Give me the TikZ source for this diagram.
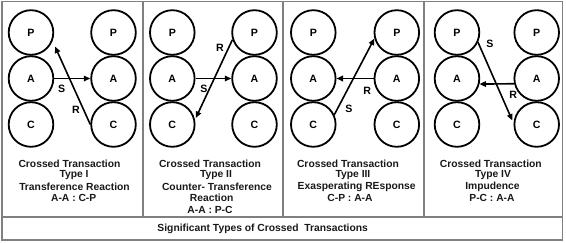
\documentclass[tikz,border=0pt]{standalone}
\usepackage{fontspec}
\setmainfont{Liberation Sans}
\usetikzlibrary{arrows.meta,calc}
\begin{document}
\begin{tikzpicture}[x=1pt,y=-1pt,
  frameline/.style={draw=black!50,line width=1.8pt},
  ego/.style={circle,draw=black,line width=1.8pt,minimum size=44.6pt,inner sep=0pt,
    font=\fontsize{10.6}{11}\selectfont\bfseries},
  msg/.style={draw=black,line width=1.6pt,-{Triangle[length=6.5pt,width=5.5pt]}},
  lbl/.style={inner sep=0pt,font=\fontsize{10.6}{11}\selectfont\bfseries},
  captxt/.style={inner sep=0pt,text=black!90,font=\fontsize{10.3}{11}\selectfont\bfseries}]
\useasboundingbox (0,0) rectangle (566,243);
% frame
\draw[frameline] (2,1.5) rectangle (562.5,239.7);
\draw[frameline] (2,217.3) -- (562.5,217.3);
\draw[frameline] (142.7,1.5) -- (142.7,217.3);
\draw[frameline] (283.3,1.5) -- (283.3,217.3);
\draw[frameline] (424.3,1.5) -- (424.3,217.3);
% circles
\foreach \i/\xl/\xr in {1/31/113.5, 2/172.3/254.5, 3/313.3/396.8, 4/457/536.7}{
  \node[ego] (P\i l) at (\xl,32.5) {P};
  \node[ego] (A\i l) at (\xl,78.5) {A};
  \node[ego] (C\i l) at (\xl,124.5) {C};
  \node[ego] (P\i r) at (\xr,32.5) {P};
  \node[ego] (A\i r) at (\xr,78.5) {A};
  \node[ego] (C\i r) at (\xr,124.5) {C};
}
% tip coordinates
\coordinate (t1) at ($(P1l)+(24,14)$);
\coordinate (t2) at ($(C2l)+(23.5,-6.5)$);
\coordinate (t4) at ($(C4r)+(-24.4,-4)$);
% panel 1
\draw[msg] (A1l.east) -- (A1r.west);
\draw[msg] (C1r.west) -- (t1);
\node[lbl] (s1) at (61.7,89.3) {S};
\node[lbl] (r1) at (76,110) {R};
% panel 2
\draw[msg] (A2l.east) -- (A2r.west);
\draw[msg] (P2r.198) -- (t2);
\node[lbl] (s2) at (204,89.3) {S};
\node[lbl] (r2) at (220,48.3) {R};
% panel 3
\draw[msg] (C3l.25) -- (P3r.195);
\draw[msg] (A3r.west) -- (A3l.east);
\node[lbl] (s3) at (349,109.3) {S};
\node[lbl] (r3) at (367.3,90.7) {R};
% panel 4
\draw[msg] (P4l.-25) -- (t4);
\draw[msg] (A4r.193) -- (A4l.-14);
\node[lbl] (s4) at (490,44.3) {S};
\node[lbl] (r4) at (513.3,95) {R};
% captions
\node[captxt] (c11) at (69.5,163.5) {Crossed Transaction};
\node[captxt] (c12) at (74,175) {Type I};
\node[captxt] (c13) at (74.5,186.5) {Transference Reaction};
\node[captxt] (c14) at (73.7,198) {A-A : C-P};
\node[captxt] (c21) at (210,163.5) {Crossed Transaction};
\node[captxt] (c22) at (216,175) {Type II};
\node[captxt] (c23) at (217,186.5) {Counter- Transference};
\node[captxt] (c24) at (211.7,198) {Reaction};
\node[captxt] (c25) at (210,209.5) {A-A : P-C};
\node[captxt] (c31) at (348,163.5) {Crossed Transaction};
\node[captxt] (c32) at (353,175) {Type III};
\node[captxt] (c33) at (356.7,186.5) {Exasperating REsponse};
\node[captxt] (c34) at (350,198) {C-P : A-A};
\node[captxt] (c41) at (490.8,163.5) {Crossed Transaction};
\node[captxt] (c42) at (493,175) {Type IV};
\node[captxt] (c43) at (492.5,186.5) {Impudence};
\node[captxt] (c44) at (492,198) {P-C : A-A};
\node[captxt] (bt) at (262.7,229.3) {Significant Types of Crossed\ \ Transactions};
\end{tikzpicture}
\end{document}
